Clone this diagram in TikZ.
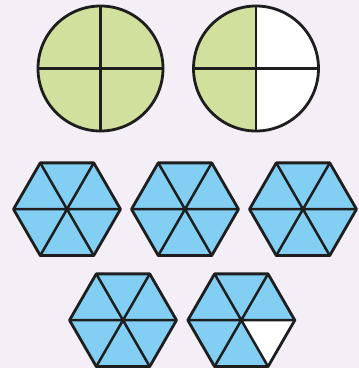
\documentclass[tikz,border=0pt]{standalone}
\definecolor{bg}{HTML}{F4EEF6}
\definecolor{grn}{HTML}{D1E09D}
\definecolor{blu}{HTML}{82CFF3}
\definecolor{ink}{HTML}{1E1E1E}
\newcommand\hexfill{\fill[blu] (-53.5,0) -- (-26.75,-46.33) -- (26.75,-46.33) -- (53.5,0) -- (26.75,46.33) -- (-26.75,46.33) -- cycle;}
\newcommand\hexlines{%
    \draw[inner] (-53.5,0) -- (53.5,0) (-26.75,-46.33) -- (26.75,46.33) (26.75,-46.33) -- (-26.75,46.33);
    \draw[outline] (-53.5,0) -- (-26.75,-46.33) -- (26.75,-46.33) -- (53.5,0) -- (26.75,46.33) -- (-26.75,46.33) -- cycle;}
\tikzset{
  outline/.style={draw=ink, line width=2.8pt, line join=round},
  inner/.style={draw=ink, line width=2.5pt},
  hexpic/.pic={\hexfill \hexlines},
  hexone/.pic={\hexfill \fill[white] (0,0) -- (53.5,0) -- (26.75,46.33) -- cycle; \hexlines}
}
\begin{document}
\begin{tikzpicture}[x=1pt,y=-1pt]
\fill[bg] (0,0) rectangle (359,368);
\useasboundingbox (0,0) rectangle (359,368);
% circle 1
\fill[grn] (100.5,68.5) circle[radius=62.5];
\draw[inner] (100.5,6) -- (100.5,131) (38,68.5) -- (163,68.5);
\draw[outline] (100.5,68.5) circle[radius=62.5];
% circle 2
\fill[white] (256,68.5) circle[radius=62.5];
\begin{scope}
  \clip (180,0) rectangle (256,140);
  \fill[grn] (256,68.5) circle[radius=62.5];
\end{scope}
\draw[inner] (256,6) -- (256,131) (193.5,68.5) -- (318.5,68.5);
\draw[outline] (256,68.5) circle[radius=62.5];
% hexagons
\pic at (67,209.2) {hexpic};
\pic at (185,209.2) {hexpic};
\pic at (303,209.2) {hexpic};
\pic at (123,320.2) {hexpic};
\pic at (241.3,320.2) {hexone};
\end{tikzpicture}
\end{document}
